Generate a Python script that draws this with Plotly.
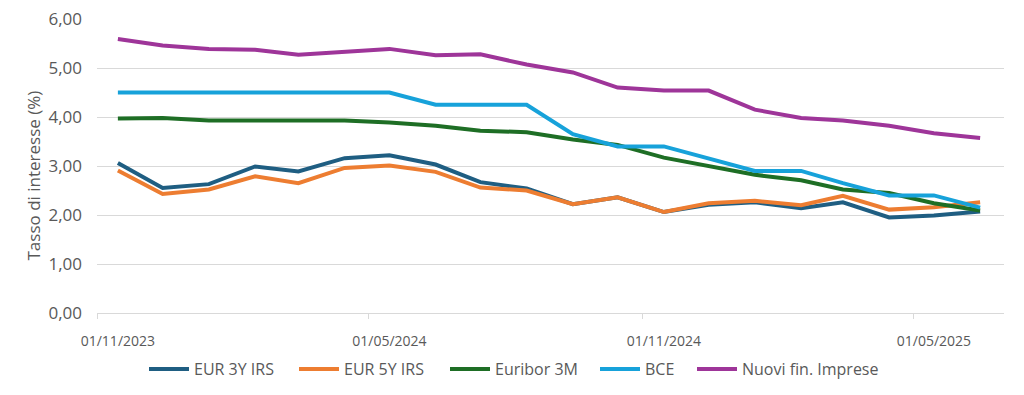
import plotly.graph_objects as go

dates = ["2023-11-15", "2023-12-15", "2024-01-15", "2024-02-15", "2024-03-15",
         "2024-04-15", "2024-05-15", "2024-06-15", "2024-07-15", "2024-08-15",
         "2024-09-15", "2024-10-15", "2024-11-15", "2024-12-15", "2025-01-15",
         "2025-02-15", "2025-03-15", "2025-04-15", "2025-05-15", "2025-06-15"]

eur3y = [3.06, 2.55, 2.63, 2.99, 2.89, 3.16, 3.22, 3.03, 2.67, 2.54,
         2.22, 2.36, 2.06, 2.21, 2.26, 2.14, 2.26, 1.95, 1.99, 2.07]
eur5y = [2.91, 2.43, 2.52, 2.79, 2.65, 2.96, 3.01, 2.88, 2.56, 2.50,
         2.22, 2.36, 2.06, 2.24, 2.29, 2.20, 2.39, 2.11, 2.16, 2.26]
euribor3m = [3.97, 3.98, 3.93, 3.93, 3.93, 3.93, 3.89, 3.82, 3.72, 3.69,
             3.54, 3.43, 3.17, 2.99, 2.82, 2.71, 2.52, 2.45, 2.24, 2.09]
bce = [4.50, 4.50, 4.50, 4.50, 4.50, 4.50, 4.50, 4.25, 4.25, 4.25,
       3.65, 3.40, 3.40, 3.15, 2.90, 2.90, 2.65, 2.40, 2.40, 2.15]
nuovi = [5.59, 5.46, 5.39, 5.37, 5.27, 5.33, 5.39, 5.26, 5.28, 5.07,
         4.91, 4.60, 4.54, 4.54, 4.15, 3.98, 3.93, 3.82, 3.67, 3.57]

series_names = ["EUR 3Y IRS", "EUR 5Y IRS", "Euribor 3M", "BCE", "Nuovi fin. Imprese"]
series_values = [eur3y, eur5y, euribor3m, bce, nuovi]
colors = ["#1F5E82", "#ED7D31", "#1E6E25", "#17A2DA", "#9E3599"]

label_dates = ["2023-11-15", "2024-05-15", "2024-11-15", "2025-05-15"]
tick_labels = ["01/11/2023", "01/05/2024", "01/11/2024", "01/05/2025"]
tick_mark_dates = ["2023-11-01", "2024-05-01", "2024-11-01", "2025-05-01"]
y_ticks = [0, 1, 2, 3, 4, 5, 6]
y_title = "Tasso di interesse (%)"

FONT = "Open Sans"
GRAY = "#595959"
W, H = 1008, 379  # page body has an 8px margin
ML, MR, MT, MB = 89, 12, 11, 74
PW, PH = W - ML - MR, H - MT - MB

legend_ids = ["legend", "legend2", "legend3", "legend4", "legend5"]
legend_left_px = [136, 286, 437, 587, 684]

fig = go.Figure()
for name, vals, col, lid in zip(series_names, series_values, colors, legend_ids):
    fig.add_trace(go.Scatter(x=dates, y=vals, name=name, mode="lines",
                             line=dict(color=col, width=4), legend=lid))

legend_layout = {}
for lid, lx in zip(legend_ids, legend_left_px):
    legend_layout[lid] = dict(
        orientation="h", xref="container", x=lx / W, xanchor="left",
        yref="container", y=(H - 361) / H, yanchor="middle",
        font=dict(family=FONT, size=16, color=GRAY),
        itemwidth=40, bgcolor="rgba(0,0,0,0)")

fig.add_annotation(
    text=y_title, textangle=-90, showarrow=False,
    xref="paper", yref="paper",
    x=(24.5 - ML) / PW, y=(MT + PH - 168) / PH,
    xanchor="center", yanchor="middle",
    font=dict(family=FONT, size=17, color=GRAY))

fig.update_layout(
    width=W, height=H,
    margin=dict(l=ML, r=MR, t=MT, b=MB, autoexpand=False),
    paper_bgcolor="white", plot_bgcolor="white",
    separators=",.",
    font=dict(family=FONT, size=14, color=GRAY),
    showlegend=True,
    xaxis=dict(
        type="date",
        range=["2023-11-01", "2025-07-01"],
        tickmode="array", tickvals=label_dates, ticktext=tick_labels,
        ticks="", showgrid=False, zeroline=False,
        showline=True, linecolor="#d9d9d9", linewidth=1,
        ticklabelstandoff=15, ticklabeloverflow="allow",
        tickfont=dict(family=FONT, size=14, color=GRAY),
        minor=dict(tickmode="array", tickvals=tick_mark_dates, ticks="outside",
                   ticklen=5, tickcolor="#d9d9d9", tickwidth=1, showgrid=False),
    ),
    yaxis=dict(
        range=[0, 6], tickmode="array", tickvals=y_ticks,
        tickformat=".2f", showgrid=True, gridcolor="#d9d9d9", gridwidth=1,
        zeroline=False, showline=False, ticks="",
        ticklabelstandoff=14, ticklabeloverflow="allow",
        tickfont=dict(family=FONT, size=17, color=GRAY),
    ),
    **legend_layout,
)

fig.write_html("out.html")
